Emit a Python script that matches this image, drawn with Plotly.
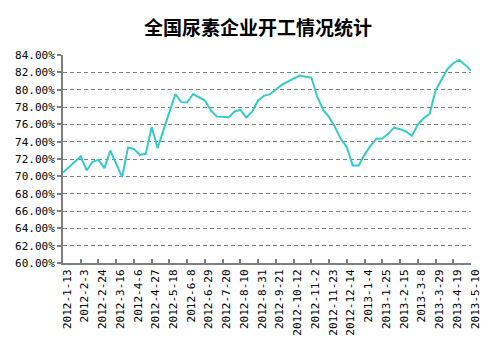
import pandas as pd
import plotly.graph_objects as go

# Weekly survey dates (categories)
dates = [f"{d.year}-{d.month}-{d.day}" for d in pd.date_range("2012-01-13", periods=70, freq="7D")]

# Operating rate (%)
rates = [
    70.44, 71.07, 71.68, 72.29, 70.68, 71.68, 71.90, 70.95, 72.98, 71.45,
    69.90, 73.33, 73.14, 72.48, 72.60, 75.68, 73.26, 75.33, 77.44, 79.50,
    78.56, 78.52, 79.50, 79.14, 78.75, 77.60, 76.90, 76.87, 76.80, 77.48,
    77.67, 76.80, 77.48, 78.75, 79.29, 79.48, 79.97, 80.55, 80.93, 81.32,
    81.63, 81.50, 81.40, 79.20, 77.66, 76.83, 75.68, 74.30, 73.37, 71.25,
    71.25, 72.48, 73.52, 74.33, 74.37, 74.90, 75.63, 75.44, 75.17, 74.67,
    75.94, 76.71, 77.21, 79.90, 81.13, 82.36, 83.05, 83.43, 82.86, 82.20,
]

tick_labels = dates[::3]
y_ticks = list(range(60, 85, 2))

title = "全国尿素企业开工情况统计"

fig = go.Figure()
fig.add_trace(go.Scatter(
    x=dates, y=rates, mode="lines",
    line=dict(color="#33CCCC", width=2),
    hoverinfo="x+y",
))

fig.update_layout(
    width=503, height=351,
    margin=dict(l=63, r=32, t=55, b=88),
    paper_bgcolor="white", plot_bgcolor="white",
    showlegend=False,
    title=dict(text=f"<b>{title}</b>", x=0.513, xanchor="center", y=0.919, yanchor="middle",
               font=dict(family="Noto Sans CJK SC", size=19, color="black")),
    font=dict(family="DejaVu Sans Mono", size=11, color="black"),
)
fig.update_xaxes(
    type="category", range=[0, len(dates) - 1],
    tickmode="array", tickvals=tick_labels, ticktext=tick_labels,
    tickangle=-90, ticks="inside", ticklen=4, tickcolor="#808080", tickwidth=1.5,
    showline=True, linecolor="#808080", linewidth=2,
    showgrid=False, zeroline=False,
    tickfont=dict(family="DejaVu Sans Mono", size=11, color="black"),
    ticklabelshift=4,
)
fig.update_yaxes(
    range=[60, 84], tickmode="array", tickvals=y_ticks,
    ticktext=[f"{v:.2f}%" for v in y_ticks],
    ticks="outside", ticklen=4, tickcolor="#808080", tickwidth=1.5,
    showline=True, linecolor="#808080", linewidth=2,
    showgrid=True, gridcolor="#808080", gridwidth=1, griddash="4px,3px",
    zeroline=False,
    tickfont=dict(family="DejaVu Sans Mono", size=11, color="black"),
)

fig.write_html("out.html")
